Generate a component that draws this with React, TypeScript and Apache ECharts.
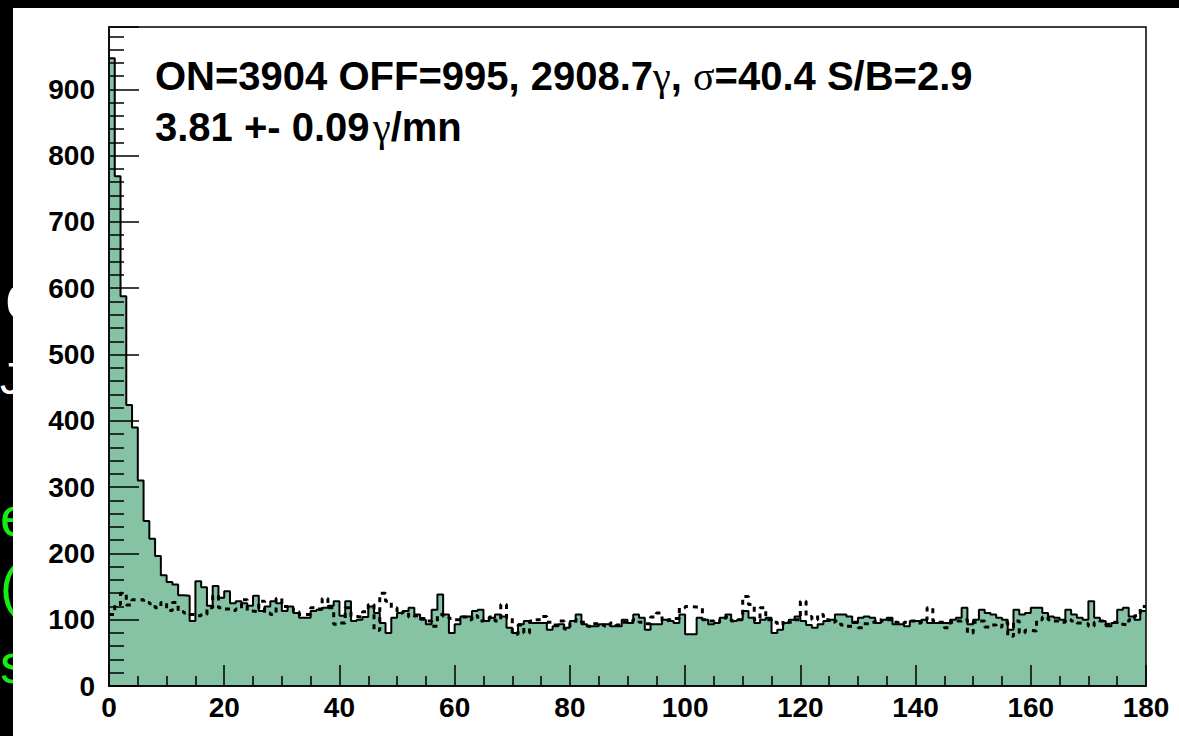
import React, { useEffect, useRef } from "react";
import * as echarts from "echarts";

// ---- data ----
const X_MIN = 0;
const X_MAX = 180;
const X_INTERVAL = 20;
const Y_MIN = 0;
const Y_MAX = 994;
const Y_INTERVAL = 100;

// ON counts per bin (bin width 1, bins 0..179)
const ON_COUNTS = [
  947, 769, 588, 424, 390, 310, 249, 222, 196, 167,
  157, 153, 137, 136, 98, 158, 149, 121, 151, 133,
  143, 125, 128, 125, 121, 136, 113, 120, 128, 125,
  113, 120, 110, 103, 103, 113, 115, 118, 121, 128,
  106, 128, 98, 100, 104, 120, 110, 95, 80, 103,
  110, 113, 118, 108, 100, 93, 115, 138, 108, 80,
  93, 105, 105, 113, 115, 98, 103, 108, 105, 88,
  80, 93, 98, 95, 95, 95, 85, 90, 93, 88,
  98, 108, 93, 90, 90, 93, 93, 90, 90, 100,
  95, 108, 103, 85, 93, 93, 100, 98, 95, 108,
  78, 78, 103, 100, 93, 95, 103, 108, 98, 100,
  113, 103, 95, 100, 103, 80, 85, 95, 100, 105,
  98, 92, 88, 93, 98, 100, 108, 108, 105, 95,
  103, 105, 103, 95, 100, 103, 93, 93, 90, 98,
  98, 100, 95, 95, 95, 95, 100, 103, 118, 93,
  100, 115, 110, 108, 103, 100, 85, 115, 108, 110,
  118, 118, 110, 105, 103, 100, 115, 108, 103, 100,
  128, 103, 98, 90, 95, 115, 118, 105, 100, 113,
];

// OFF counts per bin (dashed)
const OFF_COUNTS = [
  108, 123, 140, 122, 130, 130, 126, 124, 118, 126,
  114, 126, 112, 110, 108, 106, 108, 118, 136, 118,
  116, 114, 116, 130, 113, 112, 128, 110, 108, 132,
  120, 117, 112, 108, 108, 118, 116, 132, 118, 93,
  95, 118, 105, 104, 112, 123, 84, 140, 128, 118,
  110, 112, 104, 106, 102, 98, 90, 108, 105, 102,
  100, 104, 100, 106, 98, 100, 104, 98, 123, 103,
  78, 92, 80, 98, 100, 105, 96, 92, 98, 86,
  95, 100, 96, 90, 94, 92, 90, 95, 92, 96,
  98, 100, 96, 94, 104, 110, 98, 100, 102, 118,
  120, 119, 118, 100, 98, 96, 100, 104, 98, 100,
  135, 123, 100, 118, 100, 96, 92, 98, 96, 100,
  128, 105, 100, 108, 100, 96, 98, 92, 90, 96,
  88, 94, 96, 100, 98, 100, 96, 94, 96, 98,
  95, 100, 118, 98, 96, 88, 96, 98, 100, 80,
  96, 98, 89, 92, 89, 96, 75, 98, 80, 84,
  83, 100, 104, 100, 98, 96, 100, 98, 95, 94,
  90, 96, 98, 93, 96, 93, 92, 100, 106, 120,
];

const STATS_LINE_1 = ["ON=3904 OFF=995, 2908.7", "γ", ", ", "σ", "=40.4 S/B=2.9"];
const STATS_LINE_2 = ["3.81 +- 0.09\u200A", "γ", "/mn"];

const FILL_COLOR = "#85c3a4";
const FONT = "Liberation Sans, Arial, Helvetica, sans-serif";

function toSteps(counts: number[]): number[][] {
  const pts = counts.map((v, i) => [X_MIN + i, v]);
  pts.push([X_MIN + counts.length, counts[counts.length - 1]]);
  return pts;
}

function richLine(parts: string[]): string {
  return parts
    .map((p) => (p === "γ" || p === "σ" ? `{g|${p}}` : `{b|${p}}`))
    .join("");
}

export default function App() {
  const ref = useRef<HTMLDivElement>(null);

  useEffect(() => {
    if (!ref.current) return;
    const chart = echarts.init(ref.current, undefined, { renderer: "svg" });

    const rich = {
      b: { fontFamily: FONT, fontWeight: "bold", fontSize: 40, fill: "#000" },
      g: { fontFamily: "Liberation Serif, serif", fontWeight: "normal", fontSize: 40, fill: "#000" },
    };

    const option: any = {
      animation: false,
      backgroundColor: "#000",
      graphic: [
        // slide text fragments peeking out at the left edge (mostly hidden by the panel)
        { type: "text", z: -5, style: { x: 5, y: 296, text: "o", fontFamily: FONT, fontSize: 65, fill: "#fff", verticalAlign: "middle", align: "left" } },
        { type: "text", z: -5, style: { x: 0, y: 378, text: "J", fontFamily: FONT, fontSize: 44, fill: "#fff", verticalAlign: "middle", align: "left" } },
        { type: "text", z: -5, style: { x: 0, y: 517, text: "er", fontFamily: FONT, fontSize: 55, fill: "#14ee14", verticalAlign: "middle", align: "left" } },
        { type: "text", z: -5, style: { x: 0, y: 586, text: "(", fontFamily: FONT, fontSize: 55, fill: "#14ee14", verticalAlign: "middle", align: "left" } },
        { type: "text", z: -5, style: { x: 0, y: 664, text: "s", fontFamily: FONT, fontSize: 55, fill: "#14ee14", verticalAlign: "middle", align: "left" } },
        // white canvas panel
        { type: "rect", z: -1, shape: { x: 13, y: 8, width: 1166, height: 728 }, style: { fill: "#fff" } },
        // statistics text
        { type: "text", z: 20, style: { x: 155, y: 76, text: richLine(STATS_LINE_1), rich, verticalAlign: "middle", align: "left" } },
        { type: "text", z: 20, style: { x: 155, y: 127, text: richLine(STATS_LINE_2), rich, verticalAlign: "middle", align: "left" } },
      ],
      grid: {
        left: 109,
        top: 27,
        width: 1037,
        height: 659,
        show: true,
        z: 10,
        backgroundColor: "transparent",
        borderColor: "#000",
        borderWidth: 1.5,
      },
      xAxis: {
        type: "value",
        min: X_MIN,
        max: X_MAX,
        interval: X_INTERVAL,
        z: 10,
        axisLine: { show: true, lineStyle: { color: "#000", width: 1.5 } },
        axisTick: { show: true, inside: true, length: 21, lineStyle: { color: "#000", width: 1.5 } },
        minorTick: { show: true, splitNumber: 4, length: 10, lineStyle: { color: "#000", width: 1.5 } },
        splitLine: { show: false },
        axisLabel: { color: "#000", fontFamily: FONT, fontWeight: "bold", fontSize: 28, margin: 7 },
      },
      yAxis: {
        type: "value",
        min: Y_MIN,
        max: Y_MAX,
        interval: Y_INTERVAL,
        z: 10,
        axisLine: { show: true, lineStyle: { color: "#000", width: 1.5 } },
        axisTick: { show: true, inside: true, length: 30, lineStyle: { color: "#000", width: 1.5 } },
        minorTick: { show: true, splitNumber: 5, length: 15, lineStyle: { color: "#000", width: 1.5 } },
        splitLine: { show: false },
        axisLabel: { color: "#000", fontFamily: FONT, fontWeight: "bold", fontSize: 28, margin: 14, showMaxLabel: false },
      },
      series: [
        {
          name: "ON",
          type: "line",
          step: "end",
          data: toSteps(ON_COUNTS),
          symbol: "none",
          z: 2,
          lineStyle: { color: "#000", width: 2 },
          areaStyle: { color: FILL_COLOR, opacity: 1 },
        },
        {
          name: "OFF",
          type: "line",
          step: "end",
          data: toSteps(OFF_COUNTS),
          symbol: "none",
          z: 3,
          lineStyle: { color: "#000", width: 3, type: [5, 5] },
        },
      ],
    };

    chart.setOption(option);
    return () => chart.dispose();
  }, []);

  return (
    <div
      ref={ref}
      style={{ position: "fixed", left: 0, top: 0, width: 1179, height: 736 }}
    />
  );
}
